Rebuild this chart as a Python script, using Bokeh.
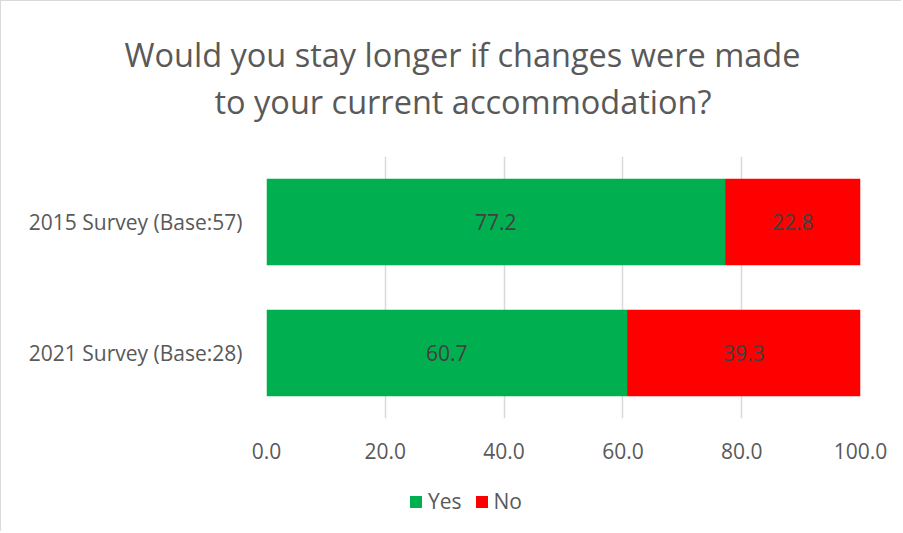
from bokeh.plotting import figure
from bokeh.layouts import column
from bokeh.models import (ColumnDataSource, FactorRange, Range1d, FixedTicker,
                          NumeralTickFormatter, LabelSet, Legend, LegendItem, Title)
from bokeh.core.properties import value
from bokeh.embed import file_html
from bokeh.resources import INLINE

categories = ["2015 Survey (Base:57)", "2021 Survey (Base:28)"]
yes = [77.2, 60.7]
no = [22.8, 39.3]
x_ticks = [0, 20, 40, 60, 80, 100]
series = ["Yes", "No"]
colors = ["#00b050", "#ff0000"]
title_lines = ["Would you stay longer if changes were made",
               "to your current accommodation?"]

FONT = "Open Sans"
GREY = "#595959"

p = figure(width=900, height=475,
           y_range=FactorRange(factors=categories[::-1]),
           x_range=Range1d(0, 100),
           output_backend="svg", toolbar_location=None,
           min_border_left=265, min_border_right=41,
           min_border_top=155, min_border_bottom=58)

src = ColumnDataSource(dict(cat=categories, Yes=yes, No=no))
rends = p.hbar_stack(series, y="cat", height=0.66, color=colors,
                     line_color=None, source=src)

yes_mid = [v / 2 for v in yes]
no_mid = [y + n / 2 for y, n in zip(yes, no)]
lab_src = ColumnDataSource(dict(
    x=yes_mid + no_mid,
    cat=categories + categories,
    txt=[f"{v:.1f}" for v in yes + no]))
labels = LabelSet(x="x", y="cat", text="txt", source=lab_src,
                  text_align="center", text_baseline="middle",
                  text_font=value(FONT), text_font_size="21px", text_color="#404040")
p.add_layout(labels)

# titles: blank spacer next to the frame, then line 2, then p.title (line 1) outermost
spacer = Title(text=" ", text_font_size="1px", text_color="white", standoff=30)
p.add_layout(spacer, "above")
t2 = Title(text=title_lines[1], align="left", text_font=FONT,
           text_font_size="32.5px", text_font_style="normal", text_color=GREY,
           offset=-52, standoff=0)
p.add_layout(t2, "above")
p.title.text = title_lines[0]
p.title.align = "left"
p.title.text_font = FONT
p.title.text_font_size = "32.5px"
p.title.text_font_style = "normal"
p.title.text_color = GREY
p.title.offset = -142
p.title.standoff = 0

# axes
p.xaxis.ticker = FixedTicker(ticks=x_ticks)
p.xaxis.formatter = NumeralTickFormatter(format="0.0")
for ax in (p.xaxis[0], p.yaxis[0]):
    ax.axis_line_color = None
    ax.major_tick_line_color = None
    ax.minor_tick_line_color = None
    ax.major_label_text_font = FONT
    ax.major_label_text_font_size = "21px"
    ax.major_label_text_color = GREY
p.xaxis.major_label_standoff = 18
p.yaxis.major_label_standoff = 18

p.ygrid.grid_line_color = None
p.xgrid.grid_line_color = "#d9d9d9"
p.xgrid.grid_line_width = 1.5
p.outline_line_color = None

# legend strip below the chart (its frame is aligned with the main frame)
p2 = figure(width=900, height=55, x_range=p.x_range, y_range=p.y_range,
            output_backend="svg", toolbar_location=None, min_border=0)
p2.axis.visible = False
p2.grid.visible = False
p2.outline_line_color = None
p2.title.visible = False
swatches = p2.hbar_stack(series, y="cat", height=0.66, color=colors,
                         line_color=None, source=src)
for r in swatches:
    r.visible = False
legend = Legend(items=[LegendItem(label=s, renderers=[r]) for s, r in zip(series, swatches)],
                orientation="horizontal", location=(142, 16),
                glyph_width=15, glyph_height=15, label_standoff=5, spacing=12,
                padding=0, margin=0, border_line_color=None, background_fill_alpha=0,
                inactive_fill_alpha=0,
                label_text_font=FONT, label_text_font_size="21px", label_text_color=GREY)
p2.add_layout(legend, "center")

layout = column(p, p2, spacing=0)
layout.styles = {"border-left": "1px solid #d9d9d9", "border-top": "1px solid #d9d9d9"}

open("out.html", "w").write(file_html(layout, INLINE))
